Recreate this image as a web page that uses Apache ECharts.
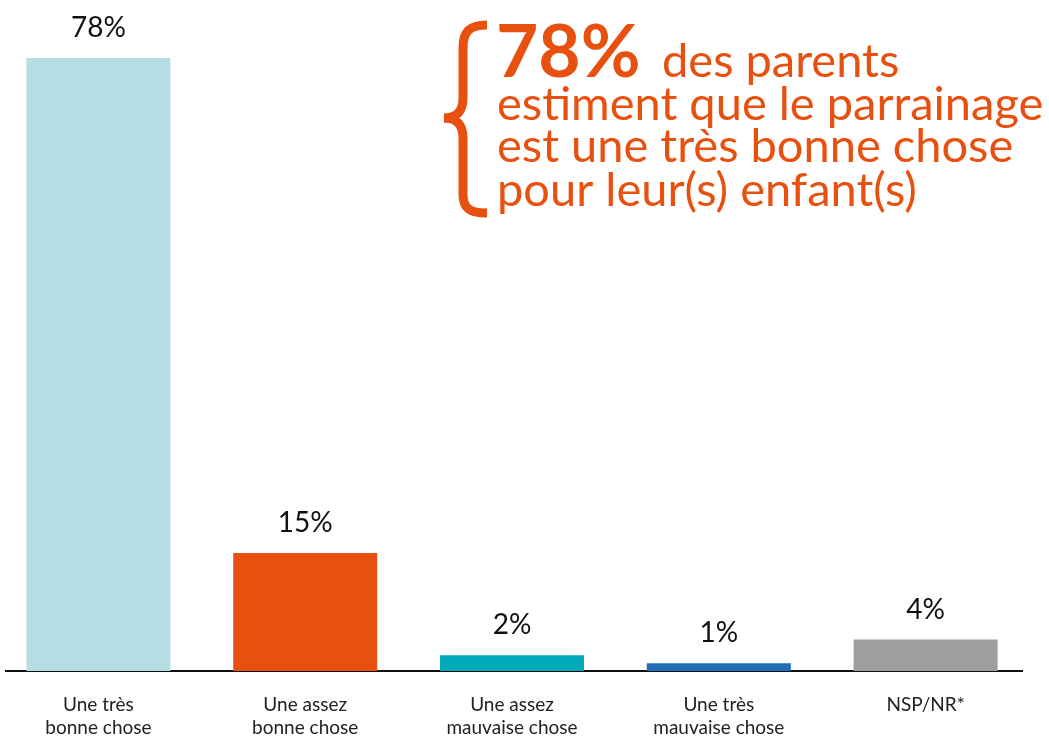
<!DOCTYPE html>
<html><head><meta charset="utf-8">
<script src="https://cdn.jsdelivr.net/npm/echarts@6/dist/echarts.min.js"></script>
<style>html,body{margin:0;padding:0;background:#fff}#c{width:1049px;height:737px}</style>
</head><body><div id="c"></div>
<script>
const categories = ["Une très\nbonne chose", "Une assez\nbonne chose", "Une assez\nmauvaise chose", "Une très\nmauvaise chose", "NSP/NR*"];
const values = [78, 15, 2, 1, 4];
const colors = ["#B5DDE3", "#E8500F", "#00A9BA", "#1F6EB5", "#9E9E9E"];
const headline = "78%";
const calloutLines = ["des parents", "estiment que le parrainage", "est une très bonne chose", "pour leur(s) enfant(s)"];
const orange = "#E8500F";
const font = "Lato";

const braceStyle = {stroke: orange, fill: null, lineWidth: 9};
function bz(x1,y1,cx1,cy1,cx2,cy2,x2,y2){return {type:'bezierCurve', shape:{x1,y1,cpx1:cx1,cpy1:cy1,cpx2:cx2,cpy2:cy2,x2,y2}, style: braceStyle};}
function ln(x1,y1,x2,y2){return {type:'line', shape:{x1,y1,x2,y2}, style: braceStyle};}

const chart = echarts.init(document.getElementById('c'), null, {renderer: 'canvas'});
chart.setOption({
  animation: false,
  grid: {left: -5, width: 1034, top: 58, bottom: 66, outerBoundsMode: 'none', containLabel: false},
  xAxis: {
    type: 'category', data: categories,
    axisLine: {show: false}, axisTick: {show: false},
    axisLabel: {color: '#222', fontFamily: font, fontSize: 19, lineHeight: 23, margin: 22, interval: 0}
  },
  yAxis: {type: 'value', min: 0, max: 78, show: false, splitLine: {show: false}},
  series: [{
    type: 'bar', barWidth: 144,
    data: values.map((v, i) => ({value: v, itemStyle: {color: colors[i]}})),
    label: {show: true, position: 'top', distance: 16, formatter: '{c}%', color: '#111', fontFamily: font, fontSize: 28}
  }],
  graphic: [
    {type: 'line', shape: {x1: 5, y1: 671, x2: 1023, y2: 671}, style: {stroke: '#111', lineWidth: 2}},
    bz(487,25, 469,25, 463,32, 463,48),
    ln(463,48,463,98),
    bz(463,98, 463,112, 456,118, 444,118),
    bz(444,118, 456,118, 463,124, 463,138),
    ln(463,138,463,194),
    bz(463,194, 463,208, 469,213, 487,213),
    {type: 'text', left: 496, top: 17, style: {text: headline, fill: orange, font: 'bold 73px ' + font}},
    {type: 'text', left: 662, top: 38, style: {text: calloutLines[0], fill: orange, font: '47px ' + font}},
    {type: 'text', left: 497, top: 81, style: {text: calloutLines[1], fill: orange, font: '47px ' + font}},
    {type: 'text', left: 497, top: 123, style: {text: calloutLines[2], fill: orange, font: '47px ' + font}},
    {type: 'text', left: 497, top: 167, style: {text: calloutLines[3], fill: orange, font: '47px ' + font}}
  ]
});
</script></body></html>
